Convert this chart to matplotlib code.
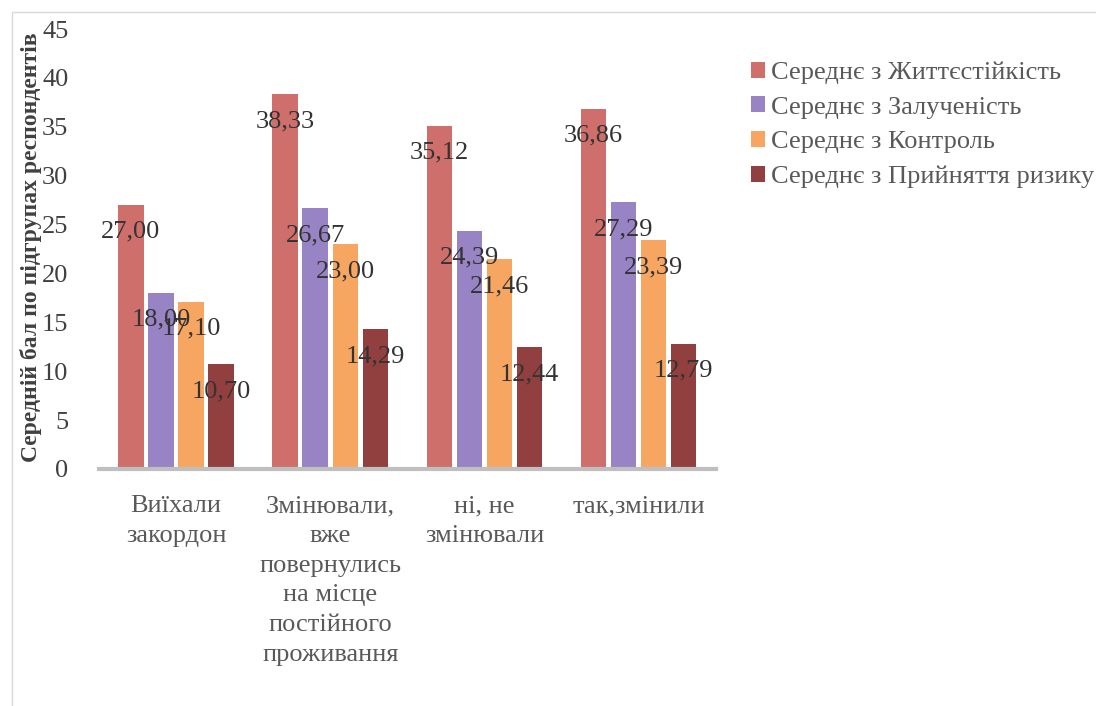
import matplotlib.pyplot as plt
import numpy as np
from matplotlib.patches import Rectangle

plt.rcParams['font.family'] = ['Liberation Serif', 'DejaVu Serif']

categories = ["Виїхали\nзакордон",
              "Змінювали,\nвже\nповернулись\nна місце\nпостійного\nпроживання",
              "ні, не\nзмінювали",
              "так,змінили"]
series_names = ["Середнє з Життєстійкість", "Середнє з Залученість",
                "Середнє з Контроль", "Середнє з Прийняття ризику"]
resilience = [27.00, 38.33, 35.12, 36.86]
engagement = [18.00, 26.67, 24.39, 27.29]
control = [17.10, 23.00, 21.46, 23.39]
risk = [10.70, 14.29, 12.44, 12.79]
colors = ['#cf6f6c', '#9884c4', '#f6a661', '#923f40']

series = [resilience, engagement, control, risk]

fig = plt.figure(figsize=(10.96, 7.06), dpi=100)
ax = fig.add_axes([0.0903, 0.3357, 0.5627, 0.6232])

x = np.arange(len(categories))
width = 0.165
step = 0.195
for i, (vals, name, c) in enumerate(zip(series, series_names, colors)):
    pos = x + (i - 1.5) * step
    ax.bar(pos, vals, width, color=c, label=name, zorder=2)
    for p, v in zip(pos, vals):
        ax.text(p, v - 2.75, f"{v:.2f}".replace('.', ','),
                ha='center', va='center', fontsize=19, color='#333333', zorder=3)

ax.set_xlim(-0.5, len(categories) - 0.5)
ax.set_ylim(0, 45)
ax.set_yticks(range(0, 46, 5))
ax.set_xticks(x)
ax.set_xticklabels(categories, fontsize=19, color='#595959', linespacing=1.45)
ax.tick_params(axis='both', length=0, labelsize=19)
ax.tick_params(axis='x', pad=19, labelcolor='#595959')
ax.tick_params(axis='y', pad=22, labelcolor='#404040')
for s in ['top', 'right', 'left']:
    ax.spines[s].set_visible(False)
ax.spines['bottom'].set_color('#bfbfbf')
ax.spines['bottom'].set_linewidth(3)

fig.text(0.028, 0.65, "Середній бал по підгрупах респондентів", rotation=90,
         ha='center', va='center', fontsize=17, fontweight='bold', color='#404040')

ax.legend(loc='upper left', bbox_to_anchor=(1.04, 0.95), frameon=False,
          fontsize=19, labelcolor='#595959', handlelength=0.55, handleheight=0.55,
          handletextpad=0.2, labelspacing=0.47, borderaxespad=0)

fig.patches.append(Rectangle((0.011, -0.01), 1.0, 0.993, transform=fig.transFigure,
                             fill=False, edgecolor='#d9d9d9', linewidth=1))

fig.savefig('out.png', dpi=100)
